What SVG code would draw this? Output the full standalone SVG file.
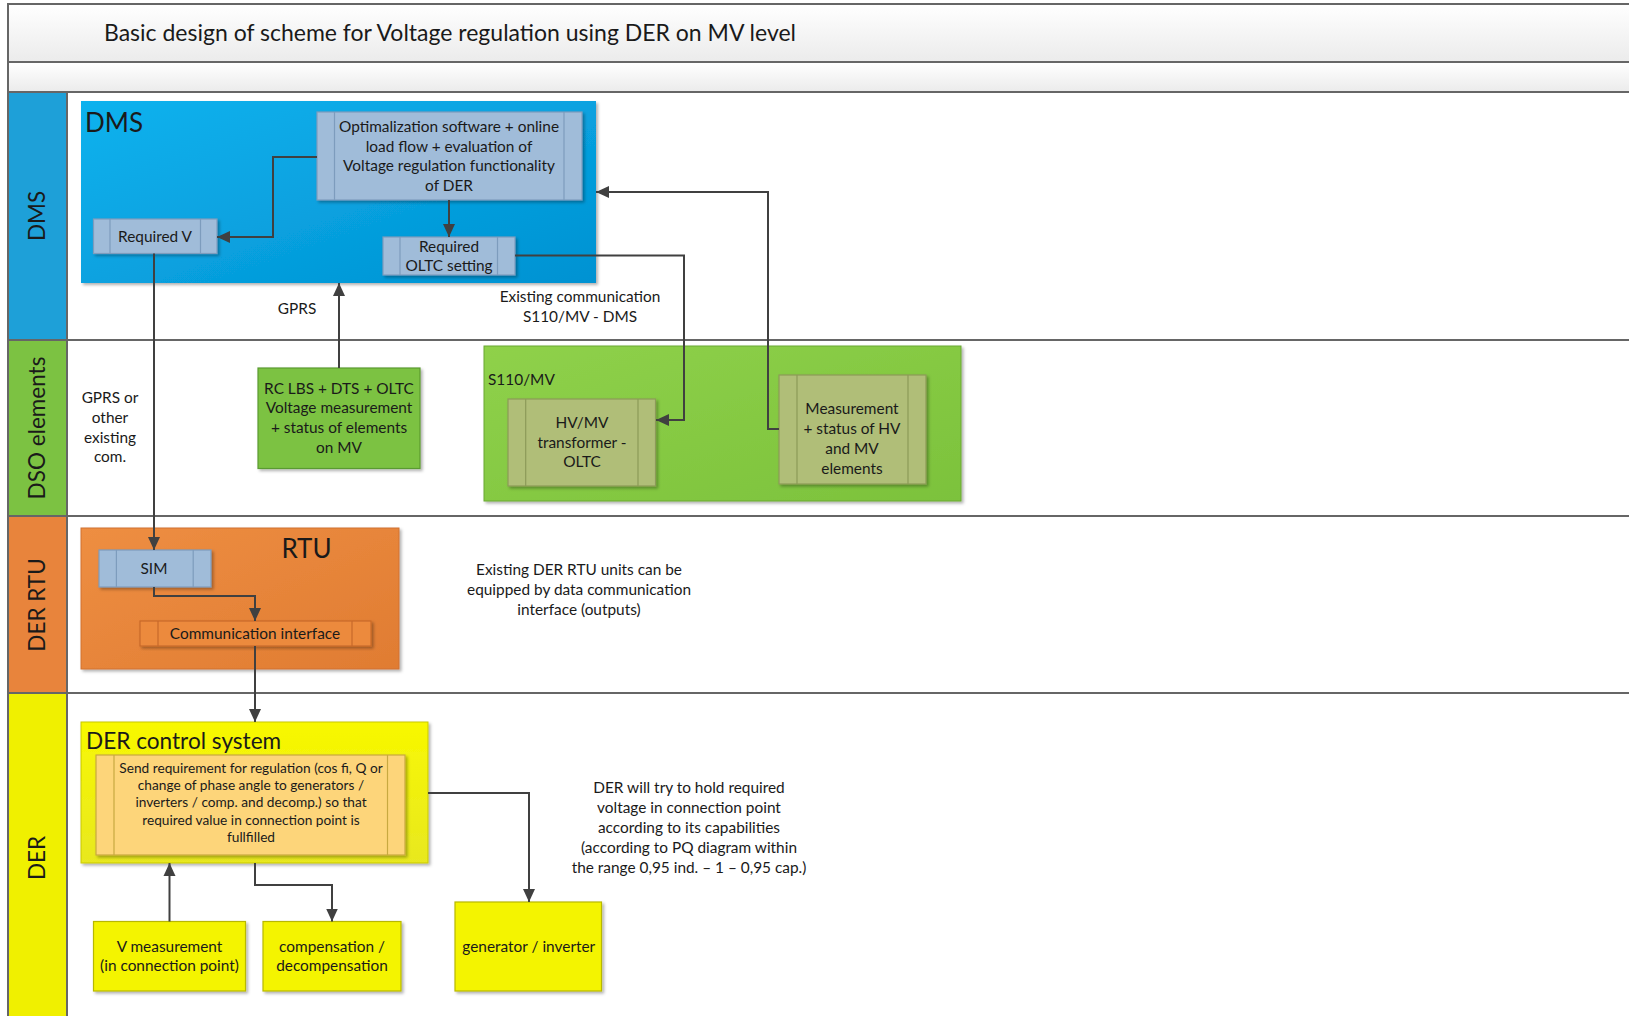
<svg xmlns="http://www.w3.org/2000/svg" width="1629" height="1016" viewBox="0 0 1629 1016">
<style>
text{font-family:Lato,"Liberation Sans",sans-serif;fill:#1a1a1a}
.t{font-size:15.4px;text-anchor:middle}
.s{font-size:13.7px;text-anchor:middle}
.lane{font-size:22.5px;text-anchor:middle}
.big{font-size:26px}
.conn{fill:none;stroke:#404040;stroke-width:2}
.sep{stroke:#666;stroke-width:2}
.blue{fill:#a0bcd9;stroke:#7d9cbd;stroke-width:1.2}
.olive{fill:#b0be78;stroke:#8c9a58;stroke-width:1.2}
.orng{fill:#ec8a3c;stroke:#c8692a;stroke-width:1.2}
.lor{fill:#fdd57a;stroke:#c8a940;stroke-width:1.2}
.yel{fill:#f4f400;stroke:#b8b800;stroke-width:1.2}
.grn{fill:#7bc243;stroke:#5a9a30;stroke-width:1.2}
</style>
<defs>
<linearGradient id="tg" x1="0" y1="0" x2="0" y2="1"><stop offset="0" stop-color="#ffffff"/><stop offset="1" stop-color="#ebebeb"/></linearGradient>
<linearGradient id="dmsg" x1="0" y1="0" x2="1" y2="1"><stop offset="0" stop-color="#10b2ee"/><stop offset="1" stop-color="#0092d2"/></linearGradient>
<linearGradient id="s110g" x1="0" y1="0" x2="1" y2="1"><stop offset="0" stop-color="#8fd14a"/><stop offset="1" stop-color="#7cc23c"/></linearGradient>
<linearGradient id="rtug" x1="0" y1="0" x2="1" y2="1"><stop offset="0" stop-color="#ee8e42"/><stop offset="1" stop-color="#e07c32"/></linearGradient>
<linearGradient id="derg" x1="0" y1="0" x2="0" y2="1"><stop offset="0" stop-color="#f8f800"/><stop offset="1" stop-color="#e8e820"/></linearGradient>
<filter id="sh" x="-10%" y="-10%" width="130%" height="130%"><feDropShadow dx="2" dy="2" stdDeviation="1.5" flood-color="#000" flood-opacity="0.3"/></filter>
<marker id="ah" markerUnits="userSpaceOnUse" markerWidth="14" markerHeight="14" viewBox="0 0 14 14" refX="13" refY="7" orient="auto"><path d="M0,1 L13,7 L0,13 z" fill="#404040"/></marker>
</defs>

<rect x="0" y="0" width="1629" height="1016" fill="#fff"/>

<g id="header">
<rect x="8" y="4" width="1630" height="58" fill="url(#tg)" stroke="#666" stroke-width="2"/>
<rect x="8" y="62" width="1630" height="30" fill="url(#tg)" stroke="#666" stroke-width="2"/>
<text x="104" y="41" font-size="23">Basic design of scheme for Voltage regulation using DER on MV level</text>
</g>

<g id="lanes">
<rect x="8" y="92" width="59" height="248" fill="#1ea0d8"/>
<rect x="8" y="340" width="59" height="176" fill="#7cc242"/>
<rect x="8" y="516" width="59" height="177" fill="#e8843c"/>
<rect x="8" y="693" width="59" height="330" fill="#f0f000"/>
<line x1="8" y1="92" x2="8" y2="1016" class="sep"/>
<line x1="67" y1="92" x2="67" y2="1016" class="sep"/>
<line x1="8" y1="92" x2="1629" y2="92" class="sep"/>
<line x1="8" y1="340" x2="1629" y2="340" class="sep"/>
<line x1="8" y1="516" x2="1629" y2="516" class="sep"/>
<line x1="8" y1="693" x2="1629" y2="693" class="sep"/>
<text class="lane" transform="translate(45,216) rotate(-90)">DMS</text>
<text class="lane" transform="translate(45,428) rotate(-90)">DSO elements</text>
<text class="lane" transform="translate(45,605) rotate(-90)">DER RTU</text>
<text class="lane" transform="translate(45,858) rotate(-90)">DER</text>
</g>

<g id="dms">
<rect x="81" y="101" width="515" height="182" fill="url(#dmsg)" filter="url(#sh)"/>
<text x="85" y="132" class="big">DMS</text>
</g>

<g id="opt">
<rect x="317" y="112" width="265" height="88" class="blue" filter="url(#sh)"/>
<line x1="334.5" y1="112" x2="334.5" y2="200" class="blue"/>
<line x1="564" y1="112" x2="564" y2="200" class="blue"/>
<text class="t" x="449" y="132">Optimalization software + online</text>
<text class="t" x="449" y="151.5">load flow + evaluation of</text>
<text class="t" x="449" y="171">Voltage regulation functionality</text>
<text class="t" x="449" y="191">of DER</text>
</g>

<g id="reqv">
<rect x="93.5" y="219" width="123.5" height="34.5" class="blue" filter="url(#sh)"/>
<line x1="110" y1="219" x2="110" y2="253.5" class="blue"/>
<line x1="200.5" y1="219" x2="200.5" y2="253.5" class="blue"/>
<text class="t" x="155" y="241.5">Required V</text>
</g>

<g id="reqoltc">
<rect x="383" y="237" width="132" height="38" class="blue" filter="url(#sh)"/>
<line x1="400" y1="237" x2="400" y2="275" class="blue"/>
<line x1="497.5" y1="237" x2="497.5" y2="275" class="blue"/>
<text class="t" x="449" y="251.5">Required</text>
<text class="t" x="449" y="270.5">OLTC setting</text>
</g>

<g id="rclbs">
<rect x="258" y="368" width="162" height="100.5" class="grn" filter="url(#sh)"/>
<text class="t" x="339" y="393.5">RC LBS + DTS + OLTC</text>
<text class="t" x="339" y="413">Voltage measurement</text>
<text class="t" x="339" y="433">+ status of elements</text>
<text class="t" x="339" y="453">on MV</text>
</g>

<g id="s110">
<rect x="484" y="346" width="477" height="155" fill="url(#s110g)" stroke="#6aa833" stroke-width="1" filter="url(#sh)"/>
<text x="488" y="385" font-size="15.4">S110/MV</text>
</g>

<g id="hvmv">
<rect x="508" y="399" width="147.5" height="87" class="olive" filter="url(#sh)"/>
<line x1="525.7" y1="399" x2="525.7" y2="486" class="olive"/>
<line x1="638" y1="399" x2="638" y2="486" class="olive"/>
<text class="t" x="582" y="428">HV/MV</text>
<text class="t" x="582" y="447.5">transformer -</text>
<text class="t" x="582" y="467">OLTC</text>
</g>

<g id="meas">
<rect x="779" y="375" width="147" height="109" class="olive" filter="url(#sh)"/>
<line x1="797" y1="375" x2="797" y2="484" class="olive"/>
<line x1="908" y1="375" x2="908" y2="484" class="olive"/>
<text class="t" x="852" y="414">Measurement</text>
<text class="t" x="852" y="434">+ status of HV</text>
<text class="t" x="852" y="454">and MV</text>
<text class="t" x="852" y="473.5">elements</text>
</g>

<g id="rtu">
<rect x="81" y="528" width="318" height="141" fill="url(#rtug)" stroke="#d07030" stroke-width="1" filter="url(#sh)"/>
<text x="306.5" y="558" class="big" text-anchor="middle">RTU</text>
</g>

<g id="sim">
<rect x="99" y="550" width="112" height="37" class="blue" filter="url(#sh)"/>
<line x1="116.4" y1="550" x2="116.4" y2="587" class="blue"/>
<line x1="193.2" y1="550" x2="193.2" y2="587" class="blue"/>
<text class="t" x="154" y="573.5">SIM</text>
</g>

<g id="comm">
<rect x="140" y="621" width="231" height="25" class="orng" filter="url(#sh)"/>
<line x1="158" y1="621" x2="158" y2="646" class="orng"/>
<line x1="352" y1="621" x2="352" y2="646" class="orng"/>
<text class="t" x="255" y="639">Communication interface</text>
</g>

<g id="dercs">
<rect x="81" y="722" width="347" height="141" fill="url(#derg)" stroke="#c8c800" stroke-width="1" filter="url(#sh)"/>
<text x="86" y="749" font-size="22.6">DER control system</text>
</g>

<g id="send">
<rect x="96" y="755" width="309" height="100" class="lor" filter="url(#sh)"/>
<line x1="114" y1="755" x2="114" y2="855" class="lor"/>
<line x1="387.5" y1="755" x2="387.5" y2="855" class="lor"/>
<text class="s" x="251" y="772.5">Send requirement for regulation (cos fi, Q or</text>
<text class="s" x="251" y="790">change of phase angle to generators /</text>
<text class="s" x="251" y="807">inverters / comp. and decomp.) so that</text>
<text class="s" x="251" y="824.5">required value in connection point is</text>
<text class="s" x="251" y="841.5">fullfilled</text>
</g>

<g id="vmeas">
<rect x="93.5" y="921.5" width="152" height="69.5" class="yel" filter="url(#sh)"/>
<text class="t" x="169.5" y="951.5">V measurement</text>
<text class="t" x="169.5" y="971">(in connection point)</text>
</g>

<g id="comp">
<rect x="263" y="921.5" width="138" height="69.5" class="yel" filter="url(#sh)"/>
<text class="t" x="332" y="951.5">compensation /</text>
<text class="t" x="332" y="971">decompensation</text>
</g>

<g id="gen">
<rect x="455" y="902" width="146.5" height="89" class="yel" filter="url(#sh)"/>
<text class="t" x="528.8" y="951.5">generator / inverter</text>
</g>

<g id="labels">
<text class="t" x="297" y="314">GPRS</text>
<text class="t" x="580" y="302">Existing communication</text>
<text class="t" x="580" y="322">S110/MV - DMS</text>
<text class="t" x="110" y="403">GPRS or</text>
<text class="t" x="110" y="423">other</text>
<text class="t" x="110" y="442.5">existing</text>
<text class="t" x="110" y="462">com.</text>
<text class="t" x="579" y="575">Existing DER RTU units can be</text>
<text class="t" x="579" y="595">equipped by data communication</text>
<text class="t" x="579" y="615">interface (outputs)</text>
<text class="t" x="689" y="792.5">DER will try to hold required</text>
<text class="t" x="689" y="812.5">voltage in connection point</text>
<text class="t" x="689" y="833">according to its capabilities</text>
<text class="t" x="689" y="853">(according to PQ diagram within</text>
<text class="t" x="689" y="873">the range 0,95 ind. – 1 – 0,95 cap.)</text>
</g>

<g id="connectors">
<path class="conn" d="M317,157 H273 V237 H217" marker-end="url(#ah)"/>
<path class="conn" d="M449,200 V237" marker-end="url(#ah)"/>
<path class="conn" d="M515,255.5 H684 V420 H656" marker-end="url(#ah)"/>
<path class="conn" d="M779,429 H768 V192 H596" marker-end="url(#ah)"/>
<path class="conn" d="M339,368 V283" marker-end="url(#ah)"/>
<path class="conn" d="M154,253.5 V550" marker-end="url(#ah)"/>
<path class="conn" d="M154,587 V596 H255 V621" marker-end="url(#ah)"/>
<path class="conn" d="M255,646 V722" marker-end="url(#ah)"/>
<path class="conn" d="M428,793 H529 V902" marker-end="url(#ah)"/>
<path class="conn" d="M255,863 V885 H332 V921.5" marker-end="url(#ah)"/>
<path class="conn" d="M169.5,921.5 V863" marker-end="url(#ah)"/>
</g>
</svg>
